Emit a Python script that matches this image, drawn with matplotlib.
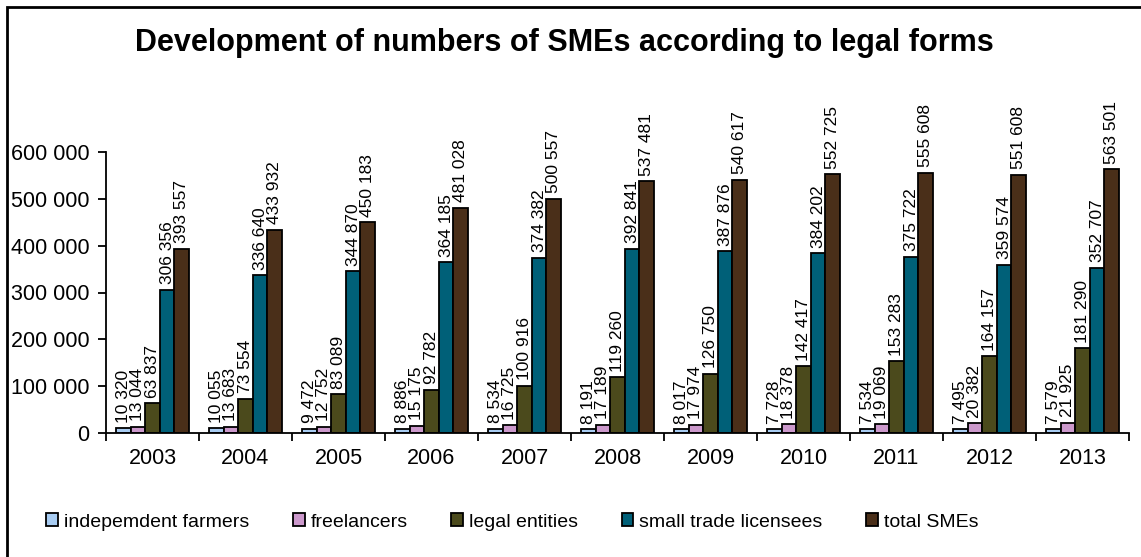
import matplotlib
matplotlib.use("Agg")
import matplotlib.pyplot as plt
from matplotlib.patches import Rectangle
import numpy as np

plt.rcParams['font.family'] = ['Liberation Sans', 'DejaVu Sans']

years = ["2003", "2004", "2005", "2006", "2007", "2008", "2009", "2010", "2011", "2012", "2013"]

farmers = [10320, 10055, 9472, 8886, 8534, 8191, 8017, 7728, 7534, 7495, 7579]
freelancers = [13044, 13683, 12752, 15175, 16725, 17189, 17974, 18378, 19069, 20382, 21925]
legal_entities = [63837, 73554, 83089, 92782, 100916, 119260, 126750, 142417, 153283, 164157, 181290]
trade_licensees = [306356, 336640, 344870, 364185, 374382, 392841, 387876, 384202, 375722, 359574, 352707]
total_smes = [393557, 433932, 450183, 481028, 500557, 537481, 540617, 552725, 555608, 551608, 563501]

series_labels = ["indepemdent farmers", "freelancers", "legal entities",
                 "small trade licensees", "total SMEs"]
series_values = [farmers, freelancers, legal_entities, trade_licensees, total_smes]
colors = ["#A8CCF2", "#CC99CC", "#4B4A1C", "#006078", "#4A2F19"]


def fmt(v):
    return "{:,}".format(v).replace(",", " ")


def main():
    fig = plt.figure(figsize=(11.41, 5.57), dpi=100)
    ax = fig.add_axes([106 / 1141, 1 - 433 / 557, (1129 - 106) / 1141, (433 - 152) / 557])

    x = np.arange(len(years))
    width = 0.157
    for i, (label, vals) in enumerate(zip(series_labels, series_values)):
        xs = x + (i - 2) * width
        ax.bar(xs, vals, width=width, color=colors[i], edgecolor="black",
               linewidth=1.3, label=label, zorder=2)
        for xx, v in zip(xs, vals):
            ax.annotate(fmt(v), (xx, v), xytext=(0, 4), textcoords="offset points",
                        rotation=90, ha="center", va="bottom", fontsize=12.5,
                        annotation_clip=False)

    ax.set_xlim(-0.5, len(years) - 0.5)
    ax.set_ylim(0, 600000)
    ax.set_yticks(range(0, 600001, 100000))
    ax.set_yticklabels([fmt(v) for v in range(0, 600001, 100000)], fontsize=15.5)

    # category labels centred, ticks sitting between the groups
    ax.set_xticks(x)
    ax.set_xticklabels(years, fontsize=15.5)
    ax.set_xticks(np.arange(-0.5, len(years) + 0.5), minor=True)
    ax.tick_params(axis="x", which="major", length=0, pad=11)
    ax.tick_params(axis="x", which="minor", length=6, width=1.3, direction="out")
    ax.tick_params(axis="y", length=6, width=1.3, direction="out", pad=6)

    for side in ["top", "right"]:
        ax.spines[side].set_visible(False)
    for side in ["left", "bottom"]:
        ax.spines[side].set_linewidth(1.3)

    fig.text(0.495, 1 - 43 / 557, "Development of numbers of SMEs according to legal forms",
             ha="center", va="center", fontsize=22, fontweight="bold")

    fig.legend(loc="center", bbox_to_anchor=(0.449, 1 - 522 / 557), ncol=5,
               frameon=False, fontsize=14, handlelength=0.6, handleheight=0.6,
               handletextpad=0.3, columnspacing=2.25, borderaxespad=0)

    # outer chart frame (cut off at the right and bottom edge)
    fig.patches.append(Rectangle((6.5 / 1141, -0.1), 1.2, 1 - 6.5 / 557 + 0.1,
                                 transform=fig.transFigure, fill=False,
                                 edgecolor="black", linewidth=2))

    fig.savefig("out.png", dpi=100)


if __name__ == "__main__":
    main()
